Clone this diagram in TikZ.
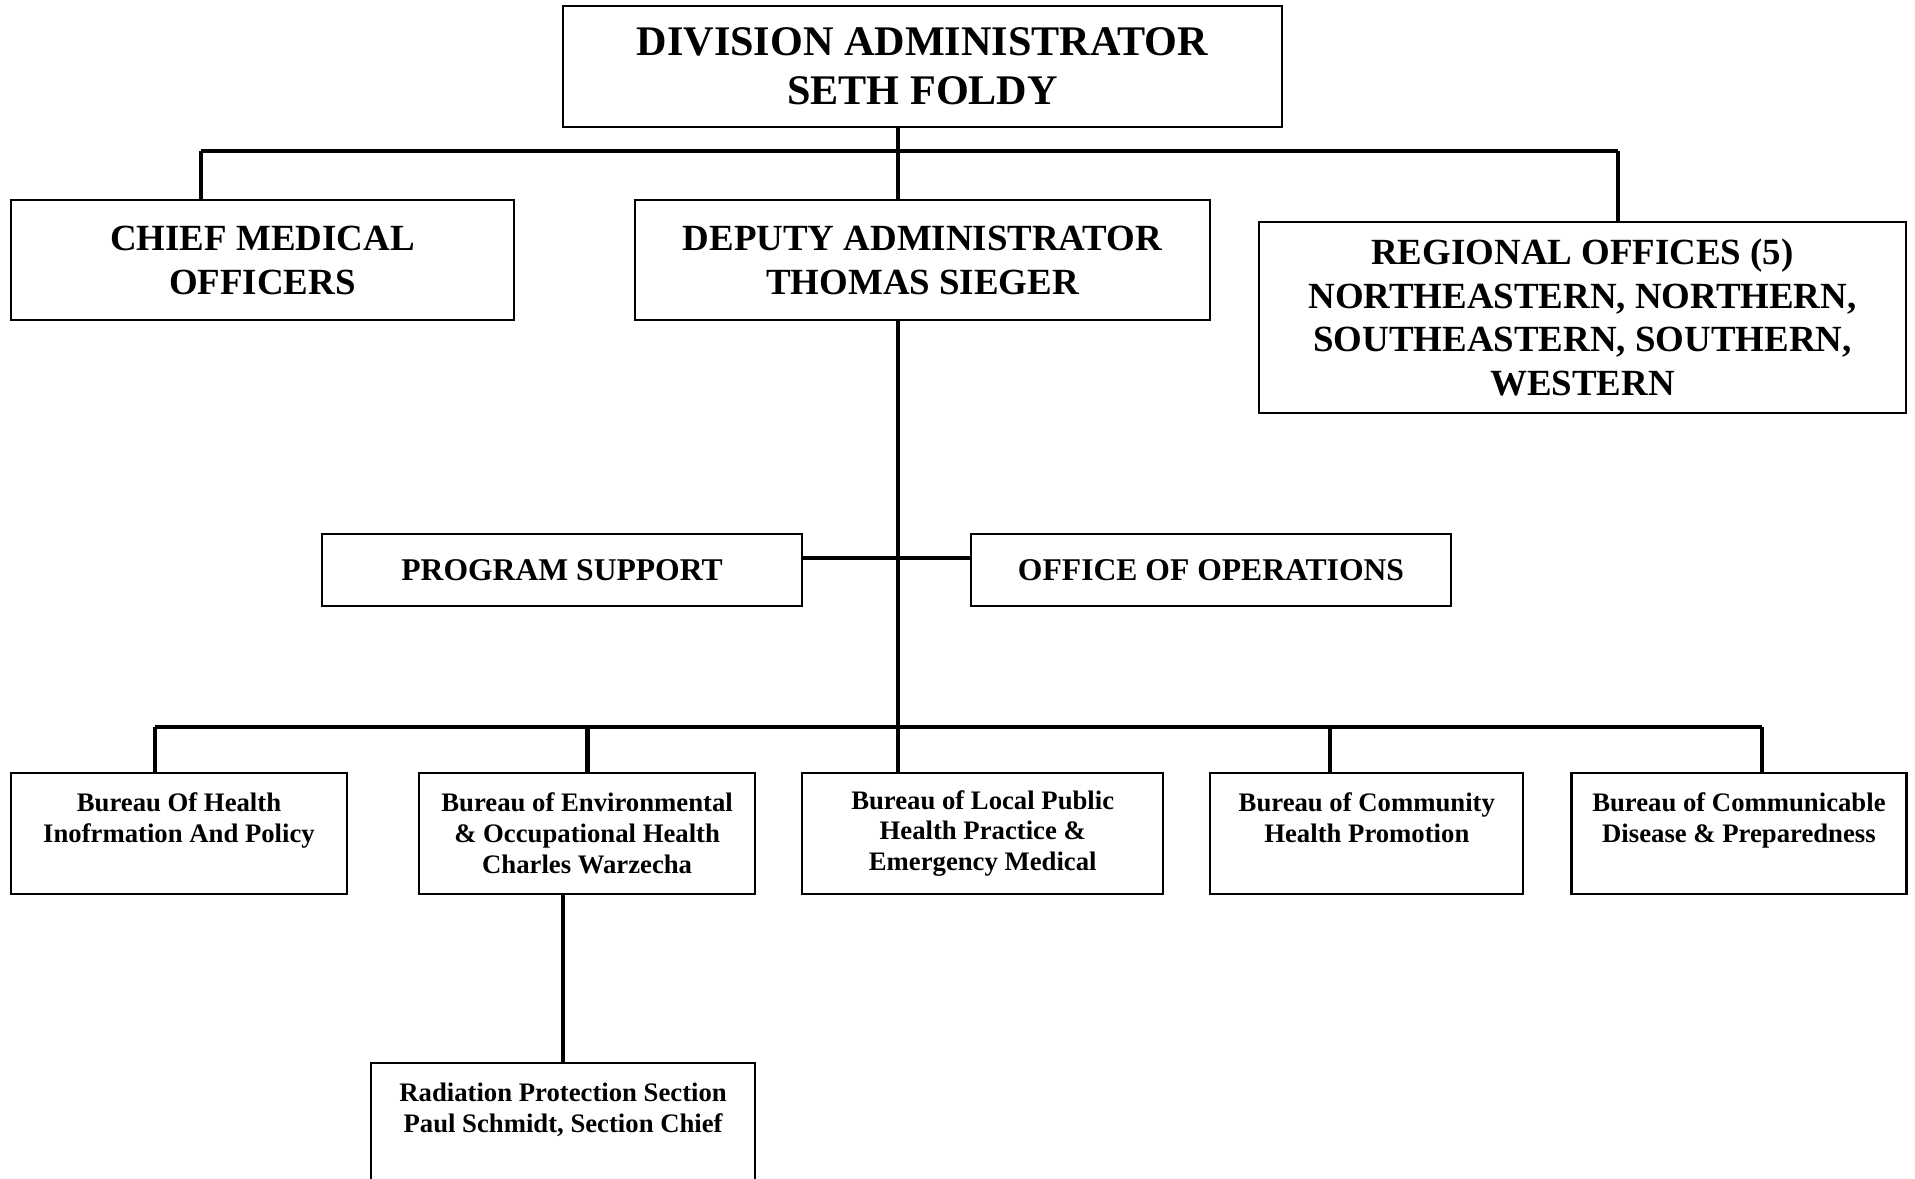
\documentclass[tikz,border=0pt]{standalone}
\usepackage{fontspec}
\setmainfont{Liberation Serif}
\usetikzlibrary{positioning}
\tikzset{font={\fontsize{10.5pt}{12.5pt}\selectfont\bfseries}}
\tikzset{
  box/.style={draw, line width=0.6pt, align=center, inner sep=0pt},
  bureau/.style={box, minimum height=1.21cm, font={\fontsize{7.6pt}{8.8pt}\selectfont\bfseries}},
  link/.style={line width=1.3pt},
}

\begin{document}
\begin{tikzpicture}
  \useasboundingbox (0,0) rectangle (19.15,-11.79);
  % Define nodes
  \node[box, minimum width=7.19cm, minimum height=1.21cm, font={\fontsize{12pt}{14pt}\selectfont\bfseries}]
        (div) at (9.225,-0.665) {DIVISION ADMINISTRATOR\\SETH FOLDY};
  \node[box, minimum width=5.75cm, minimum height=1.20cm, below=0.71 of div] (deputy) {DEPUTY ADMINISTRATOR\\THOMAS SIEGER};
  \node[box, minimum width=5.03cm, minimum height=1.20cm, left=1.19 of deputy] (chief) {CHIEF MEDICAL\\OFFICERS};
  \node[box, minimum width=6.47cm, minimum height=1.91cm] (regional) at (15.825,-3.175)
        {REGIONAL OFFICES (5)\\NORTHEASTERN, NORTHERN,\\SOUTHEASTERN, SOUTHERN,\\WESTERN};
  \node[box, minimum width=4.80cm, minimum height=0.72cm, font={\fontsize{9pt}{11pt}\selectfont\bfseries}]
        (progsup) at (5.62,-5.70) {PROGRAM SUPPORT};
  \node[box, minimum width=4.80cm, minimum height=0.72cm, font={\fontsize{9pt}{11pt}\selectfont\bfseries}]
        (ops) at (12.11,-5.70) {OFFICE OF OPERATIONS};
  \node[bureau, minimum width=3.36cm] (healthinfo) at (1.79,-8.335) {Bureau Of Health\\Inofrmation And Policy\\\mbox{}};
  \node[bureau, minimum width=3.36cm, right=0.70 of healthinfo] (envhealth) {Bureau of Environmental\\\& Occupational Health\\Charles Warzecha};
  \node[bureau, minimum width=3.61cm, right=0.45 of envhealth] (localhealth) {Bureau of Local Public\\Health Practice \&\\Emergency Medical};
  \node[bureau, minimum width=3.13cm, right=0.45 of localhealth] (community) {Bureau of Community\\Health Promotion\\\mbox{}};
  \node[bureau, minimum width=3.35cm, right=0.46 of community] (commdisease) {Bureau of Communicable\\Disease \& Preparedness\\\mbox{}};
  \node[bureau, minimum width=3.84cm, below=1.67 of envhealth.south east, anchor=north east] (radiation)
        {Radiation Protection Section\\Paul Schmidt, Section Chief\\\mbox{}};

  % Bus points
  \coordinate (spine) at (8.98,-1.51);
  \coordinate (cmdrop) at (2.01,-1.51);
  \coordinate (rodrop) at (16.18,-1.51);
  \coordinate (bus) at (8.98,-7.27);
  \coordinate (hidrop) at (1.55,-7.27);
  \coordinate (ehdrop) at (5.875,-7.27);
  \coordinate (chdrop) at (13.30,-7.27);
  \coordinate (cddrop) at (17.62,-7.27);
  \coordinate (raddrop) at (5.63,-8.95);

  % Connect the nodes
  \draw[link] (cmdrop) -- (rodrop);
  \draw[link] (div.south -| spine) -- (deputy.north -| spine);
  \draw[link] (cmdrop) -- (cmdrop |- chief.north);
  \draw[link] (rodrop) -- (rodrop |- regional.north);
  \draw[link] (deputy.south -| spine) -- (bus);
  \draw[link] ([yshift=0.12cm]progsup.east) -- ([yshift=0.12cm]ops.west);
  \draw[link] (hidrop) -- (cddrop);
  \foreach \n/\d in {healthinfo/hidrop, envhealth/ehdrop, localhealth/bus, community/chdrop, commdisease/cddrop}
    \draw[link] (\d) -- (\d |- \n.north);
  \draw[link] (envhealth.south -| raddrop) -- (radiation.north -| raddrop);
\end{tikzpicture}
\end{document}
